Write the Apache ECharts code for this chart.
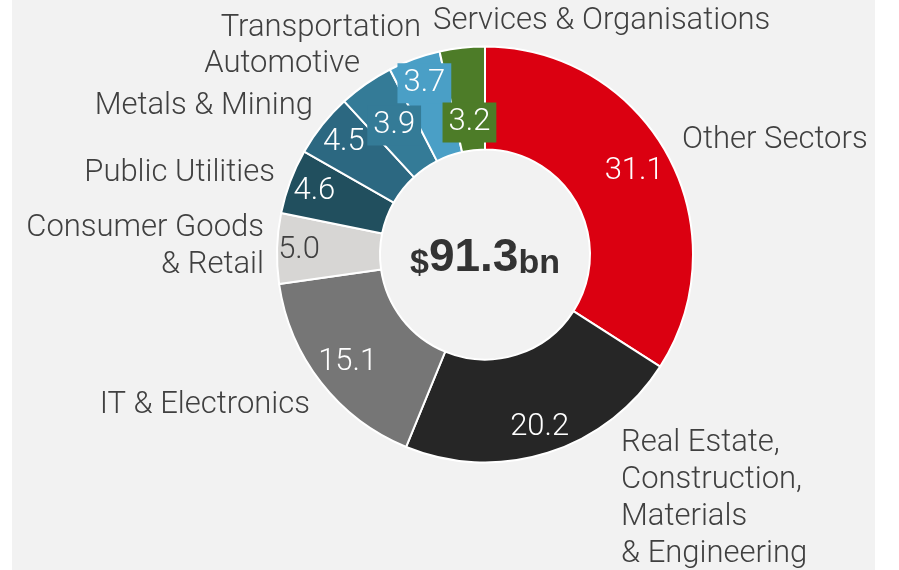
<!DOCTYPE html>
<html>
<head>
<meta charset="utf-8">
<script src="https://cdn.jsdelivr.net/npm/echarts@6/dist/echarts.min.js"></script>
<style>
  html, body { margin: 0; padding: 0; background: #ffffff; }
  #panel { position: absolute; left: 12px; top: 0; width: 863px; height: 570px; background: #f2f2f2; }
  #chart { position: absolute; left: 0; top: 0; width: 899px; height: 570px; }
</style>
</head>
<body>
<div id="panel"></div>
<div id="chart"></div>
<script>
// Sector breakdown, $bn
const categories = [
  'Other Sectors',
  'Real Estate, Construction, Materials & Engineering',
  'IT & Electronics',
  'Consumer Goods & Retail',
  'Public Utilities',
  'Metals & Mining',
  'Automotive',
  'Transportation',
  'Services & Organisations'
];
const categoryLabels = [
  'Other Sectors',
  'Real Estate,\nConstruction,\nMaterials\n& Engineering',
  'IT & Electronics',
  'Consumer Goods\n& Retail',
  'Public Utilities',
  'Metals & Mining',
  'Automotive',
  'Transportation',
  'Services & Organisations'
];
const values = [31.1, 20.2, 15.1, 5.0, 4.6, 4.5, 3.9, 3.7, 3.2];
const sliceColors = ['#db0011', '#262626', '#767676', '#d7d6d4', '#214f5e', '#2c6881', '#347b97', '#4a9fc6', '#4d7c28'];

const total = values.reduce((a, b) => a + b, 0);

const CENTER = [485, 254.5];
const FONT = 'Roboto, "Liberation Sans", sans-serif';
const TEXT_DARK = '#404040';

// value labels that need a nudge or a filled box
const valueNudge = {
  0: { dx: -7, dy: 2 },
  1: { dx: 1, dy: 3 },
  2: { dx: 3, dy: -2 },
  3: { dx: -8, dy: 1 },
  4: { dx: -4, dy: -1 },
  5: { dx: -2, dy: -1 },
  6: { dx: 11, dy: 17 },
  7: { dx: 0, dy: -4 },
  8: { dx: 4, dy: 45 }
};
const boxedLabels = { 6: true, 7: true, 8: true };

// category name placement around the ring
const namePlacement = {
  0: { x: 682, y: 140, align: 'left' },
  1: { x: 621, y: 499, align: 'left' },
  2: { x: 310, y: 405, align: 'right' },
  3: { x: 264, y: 246.5, align: 'right' },
  4: { x: 275, y: 173, align: 'right' },
  5: { x: 313, y: 106, align: 'right' },
  6: { x: 360, y: 64, align: 'right' },
  7: { x: 421, y: 28, align: 'right' },
  8: { x: 433, y: 21, align: 'left' }
};

const sliceData = categories.map((name, i) => ({
  name: name,
  value: values[i],
  itemStyle: { color: sliceColors[i] }
}));

const valueData = categories.map((name, i) => {
  const label = {};
  if (i === 3) label.color = TEXT_DARK;
  if (boxedLabels[i]) {
    label.backgroundColor = sliceColors[i];
    label.padding = [5, 6, 4, 6];
  }
  return { name: name, value: values[i], label: label };
});

const nameData = categories.map((name, i) => ({
  name: name,
  value: values[i],
  label: { formatter: categoryLabels[i] }
}));

const chart = echarts.init(document.getElementById('chart'), null, { renderer: 'canvas' });

chart.setOption({
  backgroundColor: 'transparent',
  animation: false,
  series: [
    {
      name: 'slices',
      type: 'pie',
      center: CENTER,
      radius: [105, 208],
      startAngle: 90,
      clockwise: true,
      avoidLabelOverlap: false,
      silent: true,
      label: { show: false },
      labelLine: { show: false },
      itemStyle: { borderColor: '#ffffff', borderWidth: 2 },
      data: sliceData
    },
    {
      name: 'values',
      type: 'pie',
      center: CENTER,
      radius: [142, 208],
      startAngle: 90,
      clockwise: true,
      avoidLabelOverlap: false,
      silent: true,
      itemStyle: { color: 'rgba(0,0,0,0)' },
      label: {
        show: true,
        position: 'inside',
        formatter: p => p.value.toFixed(1),
        fontFamily: FONT,
        fontWeight: 300,
        fontSize: 31,
        color: '#ffffff'
      },
      labelLine: { show: false },
      labelLayout: p => valueNudge[p.dataIndex],
      data: valueData
    },
    {
      name: 'names',
      type: 'pie',
      center: CENTER,
      radius: [105, 208],
      startAngle: 90,
      clockwise: true,
      avoidLabelOverlap: false,
      silent: true,
      itemStyle: { color: 'rgba(0,0,0,0)' },
      label: {
        show: true,
        position: 'inside',
        fontFamily: FONT,
        fontWeight: 300,
        fontSize: 31,
        lineHeight: 37,
        color: TEXT_DARK
      },
      labelLine: { show: false },
      labelLayout: p => {
        const s = namePlacement[p.dataIndex];
        return { x: s.x, y: s.y, align: s.align, verticalAlign: 'middle' };
      },
      data: nameData
    }
  ],
  graphic: [
    {
      type: 'text',
      x: 485,
      y: 258,
      style: {
        text: '{a|$}{b|' + total.toFixed(1) + '}{a|bn}',
        align: 'center',
        verticalAlign: 'middle',
        fill: '#333333',
        rich: {
          a: { fontFamily: '"Liberation Sans", Arial, sans-serif', fontWeight: 'bold', fontSize: 34, fill: '#333333', verticalAlign: 'bottom' },
          b: { fontFamily: '"Liberation Sans", Arial, sans-serif', fontWeight: 'bold', fontSize: 46, fill: '#333333', verticalAlign: 'bottom' }
        }
      }
    }
  ]
});
</script>
</body>
</html>
